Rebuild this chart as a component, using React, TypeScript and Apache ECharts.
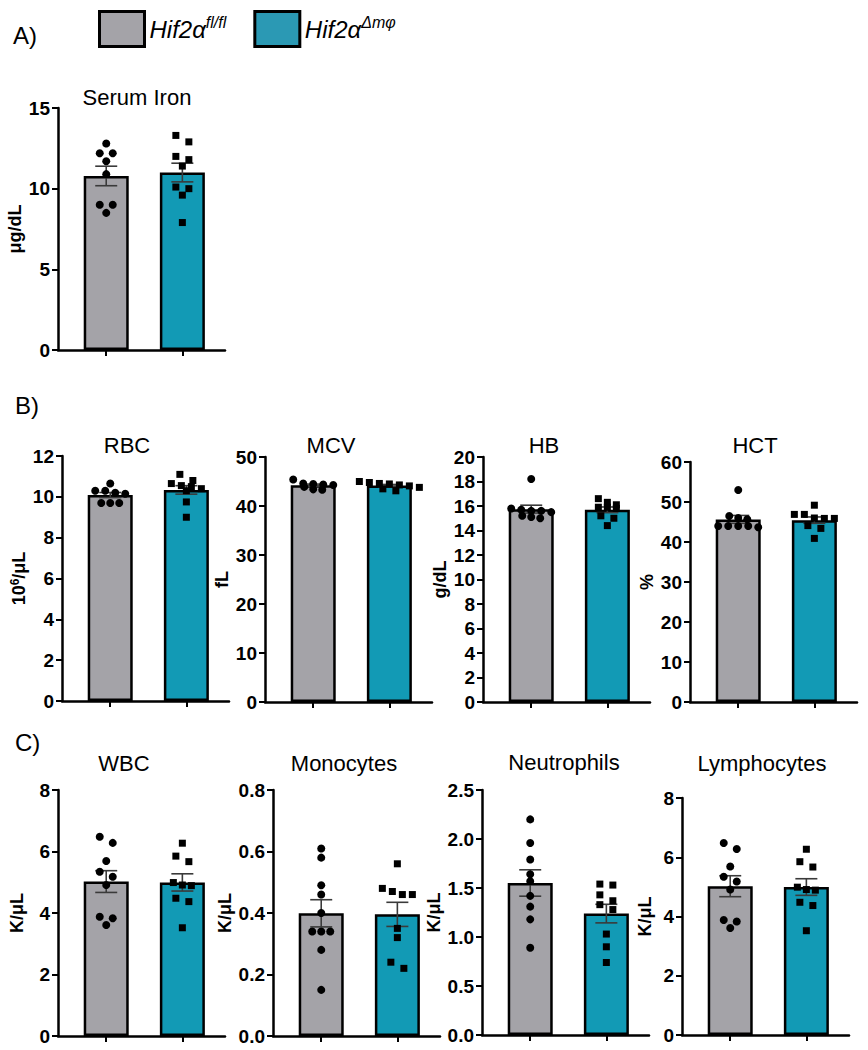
import React, { useEffect, useRef } from 'react';
import * as echarts from 'echarts';

// ---------------- DATA ----------------
const groupNames = ['Hif2α fl/fl', 'Hif2α Δmφ'];
const panelTitles = ['Serum Iron', 'RBC', 'MCV', 'HB', 'HCT', 'WBC', 'Monocytes', 'Neutrophils', 'Lymphocytes'];
const axisNames = ['μg/dL', '10{sup|6}/μL', 'fL', 'g/dL', '%', 'K/μL', 'K/μL', 'K/μL', 'K/μL'];
const yMax = [15, 12, 50, 20, 60, 8, 0.8, 2.5, 8];
const yInterval = [5, 2, 10, 2, 10, 2, 0.2, 0.5, 2];
const yDecimals = [0, 0, 0, 0, 0, 0, 1, 1, 0];

const serumIronFl = [12.8, 12.2, 12.2, 11.7, 10.9, 9.0, 9.0, 8.5];
const serumIronDm = [13.3, 12.9, 12.0, 11.8, 11.4, 10.1, 10.0, 9.6, 7.9];
const rbcFl = [10.65, 10.3, 10.3, 10.2, 10.15, 9.7, 9.7, 9.7];
const rbcDm = [11.1, 10.8, 10.65, 10.55, 10.5, 10.4, 10.3, 9.75, 9.0];
const mcvFl = [45.4, 44.6, 44.5, 44.4, 44.3, 43.9, 43.4, 43.3];
const mcvDm = [45.0, 44.8, 44.6, 44.5, 44.3, 44.1, 43.8, 43.5, 43.1];
const hbFl = [18.2, 15.8, 15.7, 15.6, 15.6, 15.5, 15.2, 15.1, 15.0];
const hbDm = [16.6, 16.3, 16.1, 15.9, 15.9, 15.8, 15.2, 15.0, 14.4];
const hctFl = [53.0, 46.5, 46.0, 45.7, 44.0, 44.0, 44.0, 44.0, 43.7];
const hctDm = [49.2, 46.9, 46.9, 46.0, 45.9, 45.9, 44.1, 43.4, 40.9];
const wbcFl = [6.48, 6.28, 5.69, 5.34, 5.18, 4.91, 3.88, 3.83, 3.61];
const wbcDm = [6.27, 5.85, 5.67, 4.99, 4.91, 4.89, 4.48, 4.37, 3.52];
const monoFl = [0.61, 0.58, 0.49, 0.46, 0.40, 0.34, 0.34, 0.34, 0.28, 0.15];
const monoDm = [0.56, 0.48, 0.47, 0.46, 0.46, 0.35, 0.32, 0.24, 0.22];
const neutFl = [2.20, 1.96, 1.79, 1.64, 1.57, 1.42, 1.31, 1.18, 0.89];
const neutDm = [1.54, 1.53, 1.43, 1.37, 1.33, 1.28, 1.03, 0.90, 0.74];
const lymphFl = [6.48, 6.28, 5.69, 5.34, 5.18, 4.91, 3.88, 3.83, 3.61];
const lymphDm = [6.27, 5.85, 5.67, 4.99, 4.91, 4.89, 4.48, 4.37, 3.52];

const panelData = [
  [serumIronFl, serumIronDm],
  [rbcFl, rbcDm],
  [mcvFl, mcvDm],
  [hbFl, hbDm],
  [hctFl, hctDm],
  [wbcFl, wbcDm],
  [monoFl, monoDm],
  [neutFl, neutDm],
  [lymphFl, lymphDm],
];

// ---------------- LAYOUT ----------------
const GRID_W = 167;
const X_MIN = 0.3667;
const X_MAX = 2.56;
const grids = [
  { left: 58, top: 108, height: 242 },
  { left: 62, top: 456, height: 245 },
  { left: 265, top: 457, height: 245 },
  { left: 483, top: 457, height: 245 },
  { left: 690, top: 462, height: 240 },
  { left: 58, top: 790, height: 246 },
  { left: 273, top: 790, height: 246 },
  { left: 482, top: 790, height: 245 },
  { left: 682, top: 798, height: 237 },
];
const nameGaps = [28, 30, 26, 30, 31, 31, 38, 37, 27];
const titlePos = [
  [137, 97], [127, 445], [331, 445], [544, 445], [755, 445],
  [124, 763], [344, 763], [564, 762], [762, 763],
];
const sectionPos = [['A)', 13, 35], ['B)', 15, 405], ['C)', 15, 742]];

const GRAY = '#A4A3A8';
const TEAL = '#129AB5';
const FONT = '"Liberation Sans", Arial, Helvetica, sans-serif';

const mean = (a: number[]) => a.reduce((s, v) => s + v, 0) / a.length;
const sem = (a: number[]) => {
  const m = mean(a);
  const v = a.reduce((s, x) => s + (x - m) * (x - m), 0) / (a.length - 1);
  return Math.sqrt(v) / Math.sqrt(a.length);
};

// GraphPad-like horizontal spreading of points with similar values (returns px offsets)
function swarm(vals: number[], pxPerY: number): number[] {
  const idx = vals.map((_, i) => i).sort((a, b) => vals[b] - vals[a]);
  const offs = new Array(vals.length).fill(0);
  let row: number[] = [];
  const flush = () => {
    const n = row.length;
    const S = n === 2 ? 13 : n === 3 ? 9 : 10;
    row.forEach((k, j) => { offs[k] = (j - (n - 1) / 2) * S; });
    row = [];
  };
  for (const k of idx) {
    if (row.length && (vals[row[0]] - vals[k]) * pxPerY > 6.5) flush();
    row.push(k);
  }
  flush();
  return offs;
}

function buildOption() {
  const grid: any[] = [];
  const xAxis: any[] = [];
  const yAxis: any[] = [];
  const series: any[] = [];
  const graphic: any[] = [];

  panelData.forEach((pair, p) => {
    const g = grids[p];
    grid.push({ left: g.left, top: g.top, width: GRID_W, height: g.height, containLabel: false, outerBoundsMode: 'none' });
    xAxis.push({
      type: 'value', gridIndex: p, min: X_MIN, max: X_MAX,
      axisLine: { show: true, onZero: false, lineStyle: { color: '#000', width: 2.5 } },
      axisTick: { show: true, customValues: [1, 2], length: 6, lineStyle: { color: '#000', width: 2 } },
      axisLabel: { show: false },
      splitLine: { show: false },
    });
    yAxis.push({
      type: 'value', gridIndex: p, min: 0, max: yMax[p], interval: yInterval[p],
      name: axisNames[p], nameLocation: 'middle', nameGap: nameGaps[p], nameRotate: 90,
      nameTextStyle: {
        fontFamily: FONT, fontSize: 18, fontWeight: 'bold', color: '#000', lineHeight: 20,
        rich: { sup: { fontFamily: FONT, fontSize: 12, fontWeight: 'bold', color: '#000', verticalAlign: 'top', lineHeight: 12 } },
      },
      axisLine: { show: true, lineStyle: { color: '#000', width: 2.5 } },
      axisTick: { show: true, length: 6, lineStyle: { color: '#000', width: 2 } },
      axisLabel: {
        fontFamily: FONT, fontSize: 19, fontWeight: 'bold', color: '#000', margin: 8,
        formatter: (v: number) => v.toFixed(yDecimals[p]),
      },
      splitLine: { show: false },
    });

    const pxPerX = GRID_W / (X_MAX - X_MIN);
    const pxPerY = g.height / yMax[p];
    const stats = pair.map((vals) => [mean(vals), sem(vals)]);

    pair.forEach((vals, gi) => {
      series.push({
        type: 'bar', name: groupNames[gi], xAxisIndex: p, yAxisIndex: p,
        data: [[gi + 1, stats[gi][0]]], barWidth: 45, barGap: '-100%',
        itemStyle: { color: gi === 0 ? GRAY : TEAL, borderColor: '#000', borderWidth: 2.5, opacity: 1 },
        z: 2,
      });
    });

    series.push({
      type: 'custom', xAxisIndex: p, yAxisIndex: p,
      data: stats.map((s, gi) => [gi + 1, s[0], s[1]]),
      encode: { x: 0, y: 1 },
      renderItem: (params: any, api: any) => {
        const x = api.value(0), m = api.value(1), s = api.value(2);
        const top = api.coord([x, m + s]);
        const bot = api.coord([x, m - s]);
        const hw = 11;
        const style = { stroke: '#3a3a3a', lineWidth: 1.6 };
        return {
          type: 'group', children: [
            { type: 'line', shape: { x1: top[0], y1: top[1], x2: bot[0], y2: bot[1] }, style },
            { type: 'line', shape: { x1: top[0] - hw, y1: top[1], x2: top[0] + hw, y2: top[1] }, style },
            { type: 'line', shape: { x1: bot[0] - hw, y1: bot[1], x2: bot[0] + hw, y2: bot[1] }, style },
          ],
        };
      },
      z: 3,
    });

    pair.forEach((vals, gi) => {
      const offs = swarm(vals, pxPerY);
      series.push({
        type: 'scatter', xAxisIndex: p, yAxisIndex: p,
        symbol: gi === 0 ? 'circle' : 'rect', symbolSize: gi === 0 ? 8 : 7,
        itemStyle: { color: '#000', opacity: 1 },
        data: vals.map((v, i) => [gi + 1 + offs[i] / pxPerX, v]),
        z: 4,
      });
    });

    graphic.push({
      type: 'text', x: titlePos[p][0], y: titlePos[p][1],
      style: { text: panelTitles[p], font: `22px ${FONT}`, fill: '#000', align: 'center', verticalAlign: 'middle' },
    });
  });

  sectionPos.forEach(([t, x, y]) => {
    graphic.push({
      type: 'text', x, y,
      style: { text: t, font: `24px ${FONT}`, fill: '#000', align: 'left', verticalAlign: 'middle' },
    });
  });

  const supText: Record<string, string> = { 'Hif2α fl/fl': 'fl/fl', 'Hif2α Δmφ': 'Δmφ' };

  return {
    animation: false,
    backgroundColor: '#fff',
    grid, xAxis, yAxis, series, graphic,
    legend: {
      left: 98, top: 10, orient: 'horizontal', itemGap: 27, padding: 0,
      itemWidth: 45, itemHeight: 35, icon: 'rect',
      selectedMode: false,
      data: [
        { name: groupNames[0], itemStyle: { color: GRAY, borderColor: '#000', borderWidth: 3 } },
        { name: groupNames[1], itemStyle: { color: '#2B99B4', borderColor: '#000', borderWidth: 3 } },
      ],
      formatter: (name: string) => `{i|Hif2α}{s|${supText[name]}}`,
      textStyle: {
        color: '#000',
        rich: {
          i: { fontFamily: FONT, fontSize: 24, fontStyle: 'italic', color: '#000', lineHeight: 30 },
          s: { fontFamily: FONT, fontSize: 16, fontStyle: 'italic', color: '#000', verticalAlign: 'top', lineHeight: 13 },
        },
      },
    },
  };
}

export default function App() {
  const ref = useRef<HTMLDivElement>(null);
  useEffect(() => {
    document.body.style.margin = '0';
    const chart = echarts.init(ref.current!, undefined, { renderer: 'svg' });
    chart.setOption(buildOption() as any);
    return () => chart.dispose();
  }, []);
  return <div ref={ref} style={{ width: 868, height: 1050 }} />;
}
